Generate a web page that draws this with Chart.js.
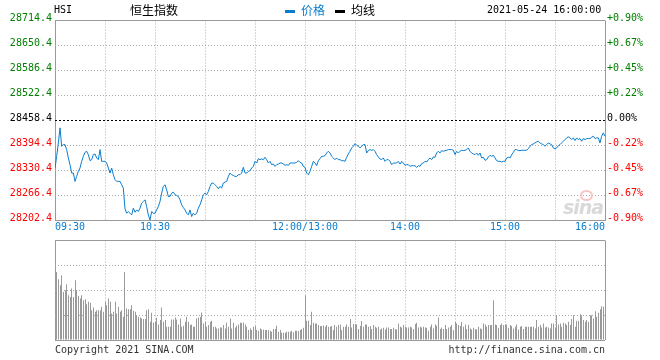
<!DOCTYPE html>
<html>
<head>
<meta charset="utf-8">
<script src="https://cdn.jsdelivr.net/npm/chart.js@4.4.0/dist/chart.umd.min.js"></script>
<style>
  body { margin: 0; background: #fff; }
  #wrap { position: relative; width: 660px; height: 360px; background: #fff; overflow: hidden;
          font-family: "DejaVu Sans Mono", monospace; font-size: 10px; color: #000; }
  #wrap canvas { position: absolute; left: 0; }
  .t { position: absolute; white-space: nowrap; line-height: 12px; }
  .cjk { font-family: "Noto Sans CJK SC", sans-serif; font-size: 12px; line-height: 14px; }
  .dash { position: absolute; width: 10px; height: 3px; }
  #sina { position: absolute; left: 563px; top: 196px; font: italic bold 19px "DejaVu Sans", sans-serif;
          color: #d9d9d9; letter-spacing: -1px; }
  #eye { position: absolute; left: 580px; top: 190px; width: 9px; height: 7px; border-radius: 50%;
         border: 2px solid #f6c4c4; }
</style>
</head>
<body>
<div id="wrap">
  <canvas id="priceChart" width="660" height="240" style="top:0"></canvas>
  <canvas id="volChart" width="660" height="106" style="top:236px"></canvas>

  <div class="t" style="left:54px; top:4px">HSI</div>
  <div class="t cjk" style="left:130px; top:3px">恒生指数</div>
  <div class="dash" style="left:285px; top:10px; background:#0a7cce"></div>
  <div class="t cjk" style="left:301px; top:3px; color:#0a7cce">价格</div>
  <div class="dash" style="left:335px; top:10px; background:#000"></div>
  <div class="t cjk" style="left:351px; top:3px">均线</div>
  <div class="t" style="left:487px; top:4px">2021-05-24 16:00:00</div>
  <div id="eye"></div>
  <div id="sina">sina</div>
  <div class="t" style="left:55px; top:344px; color:#333">Copyright 2021 SINA.COM</div>
  <div class="t" style="right:55px; top:344px; color:#333">http://finance.sina.com.cn</div>
</div>

<script>
// minutes since 09:30 (12:00 and 13:00 share minute 150)
const gridMinutes = [0, 30, 60, 90, 120, 150, 180, 210, 240, 270, 300, 330];
const timeTicks = [0, 60, 150, 210, 270, 330];
const timeLabels = ['09:30', '10:30', '12:00/13:00', '14:00', '15:00', '16:00'];

const priceTicks = [28202.4, 28266.4, 28330.4, 28394.4, 28458.4, 28522.4, 28586.4, 28650.4, 28714.4];
const pctLabels = ['-0.90%', '-0.67%', '-0.45%', '-0.22%', '0.00%', '+0.22%', '+0.45%', '+0.67%', '+0.90%'];

// one price per minute, 09:30 .. 16:00
const prices = [
  28336.7, 28366.7, 28401.0, 28439.6, 28392.5, 28396.7, 28396.7, 28383.9, 28362.5, 28345.3,
  28323.9, 28323.9, 28302.5, 28315.3, 28328.2, 28336.7, 28353.9, 28366.7, 28377.0, 28379.6,
  28371.0, 28355.6, 28358.2, 28371.0, 28372.7, 28362.5, 28358.2, 28383.9, 28353.9, 28353.9,
  28353.9, 28349.6, 28336.7, 28323.9, 28336.7, 28319.6, 28306.8, 28302.5, 28302.5, 28302.5,
  28293.9, 28285.3, 28232.2, 28221.1, 28225.3, 28221.1, 28216.8, 28233.9, 28223.6, 28229.6,
  28225.3, 28233.9, 28246.8, 28251.0, 28255.3, 28238.2, 28216.8, 28203.9, 28225.3, 28221.1,
  28221.1, 28229.6, 28238.2, 28251.0, 28272.5, 28289.6, 28293.9, 28281.0, 28263.9, 28263.9,
  28272.5, 28275.0, 28268.2, 28266.5, 28263.9, 28255.3, 28242.5, 28235.6, 28229.6, 28221.1,
  28216.8, 28229.6, 28212.5, 28221.1, 28216.8, 28221.1, 28233.9, 28242.5, 28255.3, 28268.2,
  28272.5, 28268.2, 28276.8, 28289.6, 28298.2, 28298.2, 28293.9, 28289.6, 28283.6, 28289.6,
  28285.3, 28298.2, 28300.8, 28302.5, 28315.3, 28323.9, 28319.6, 28317.9, 28315.3, 28315.3,
  28319.6,
  28319.6, 28323.9, 28338.5, 28323.9, 28323.9, 28328.2, 28329.9, 28336.7, 28341.0, 28353.9,
  28349.6, 28360.7, 28358.2, 28359.9, 28358.2, 28364.2, 28358.2, 28349.6, 28353.9, 28345.3,
  28347.0, 28341.0, 28345.3, 28347.0, 28349.6, 28349.6, 28347.0, 28343.6, 28345.3, 28343.6,
  28349.6, 28349.6, 28349.6, 28349.6, 28351.3, 28355.6, 28351.3, 28349.6, 28341.0, 28338.5,
  28323.9, 28319.6, 28328.2, 28341.0, 28353.9, 28349.6, 28342.7, 28355.6, 28360.7, 28366.7,
  28366.7, 28368.5, 28375.3, 28379.6, 28375.3, 28366.7, 28362.5, 28358.2, 28362.5, 28358.2,
  28358.2, 28355.6, 28355.6, 28353.9, 28364.2, 28372.7, 28379.6, 28388.2, 28392.5, 28399.3,
  28395.0, 28392.5, 28388.2, 28392.5, 28396.7, 28396.7, 28375.3, 28381.3, 28383.9, 28382.2,
  28383.9, 28379.6, 28371.0, 28365.0, 28359.9, 28358.2, 28362.5, 28353.9, 28358.2, 28358.2,
  28353.9, 28345.3, 28349.6, 28349.6, 28349.6, 28353.9, 28347.0, 28353.9, 28349.6, 28343.6,
  28345.3, 28345.3, 28341.0, 28342.7, 28342.7, 28342.7, 28338.5, 28342.7, 28341.0, 28347.9,
  28349.6, 28353.9, 28352.2, 28358.2, 28362.5, 28358.2, 28365.0, 28364.2, 28375.3, 28379.6,
  28375.3, 28381.3, 28379.6, 28381.3, 28382.2, 28383.9, 28383.9, 28383.9, 28382.2, 28371.0,
  28379.6, 28375.3, 28379.6, 28382.2, 28381.3, 28382.2, 28383.9, 28388.2, 28379.6, 28375.3,
  28372.7, 28371.0, 28375.3, 28369.3, 28375.3, 28362.5, 28364.2, 28356.5, 28358.2, 28365.0,
  28369.3, 28366.7, 28369.3, 28362.5, 28355.6, 28353.9, 28353.9, 28352.2, 28353.9, 28353.9,
  28362.5, 28364.2, 28362.5, 28371.0, 28377.0, 28383.9, 28383.9, 28381.3, 28381.3, 28382.2,
  28382.2, 28382.2, 28382.2, 28386.5, 28392.5, 28396.7, 28398.5, 28401.0, 28403.6, 28405.3,
  28401.0, 28398.5, 28396.7, 28392.5, 28396.7, 28401.0, 28398.5, 28396.7, 28388.2, 28385.6,
  28388.2, 28394.2, 28396.7, 28401.0, 28405.3, 28409.6, 28413.9, 28416.5, 28413.9, 28409.6,
  28413.9, 28407.0, 28413.9, 28409.6, 28412.2, 28405.3, 28412.2, 28409.6, 28412.2, 28412.2,
  28412.2, 28415.6, 28418.2, 28412.2, 28413.9, 28413.9, 28401.0, 28418.2, 28426.7, 28418.2
];

// volume per minute (09:31 .. 16:00), relative units
const volTicks = [0, 75, 150, 225, 300];
const volumes = [
  205, 183, 165, 195, 145, 150, 168, 135, 130, 155,
  130, 180, 150, 133, 125, 135, 120, 123, 108, 115,
  112, 90, 98, 85, 90, 90, 90, 100, 85, 115,
  105, 125, 115, 80, 85, 115, 80, 100, 85, 90,
  70, 205, 95, 93, 93, 105, 88, 85, 75, 70,
  68, 65, 63, 63, 90, 93, 55, 82, 52, 55,
  67, 47, 60, 98, 55, 60, 40, 40, 40, 62,
  62, 68, 62, 47, 65, 40, 43, 55, 70, 55,
  45, 47, 40, 40, 65, 68, 70, 83, 50, 55,
  40, 45, 55, 58, 40, 40, 35, 35, 38, 38,
  45, 35, 52, 40, 65, 35, 52, 38, 43, 47,
  52, 52, 52, 47, 40, 30, 35, 30, 40, 42,
  30, 28, 35, 32, 32, 30, 30, 30, 28, 25,
  33, 33, 43, 25, 30, 22, 22, 22, 25, 25,
  25, 28, 23, 28, 28, 27, 30, 33, 37, 135,
  58, 58, 45, 85, 52, 50, 50, 45, 42, 42,
  44, 40, 45, 40,
  40, 42, 30, 45, 40, 45, 47, 30, 40, 40,
  47, 40, 63, 38, 48, 48, 47, 33, 42, 57,
  40, 47, 47, 40, 42, 33, 45, 40, 37, 40,
  32, 35, 37, 32, 38, 38, 33, 33, 37, 33,
  32, 50, 40, 38, 45, 40, 38, 38, 40, 38,
  33, 48, 52, 38, 40, 38, 40, 38, 37, 28,
  40, 47, 35, 47, 43, 68, 33, 38, 33, 45,
  33, 38, 40, 45, 30, 55, 50, 45, 42, 54,
  40, 47, 33, 45, 35, 32, 37, 33, 32, 40,
  35, 33, 50, 47, 40, 45, 45, 45, 120, 47,
  45, 37, 45, 50, 45, 47, 47, 37, 45, 42,
  35, 40, 47, 32, 40, 42, 33, 40, 40, 40,
  40, 40, 40, 35, 60, 40, 45, 38, 50, 38,
  40, 38, 35, 50, 50, 38, 75, 47, 50, 40,
  52, 50, 45, 55, 45, 63, 75, 40, 58, 58,
  78, 75, 60, 55, 60, 55, 75, 75, 65, 87,
  70, 82, 93, 102, 100, 98
];

const MONO = '"DejaVu Sans Mono", monospace';
const BLUE = '#0a7cce';
const FRAME = '#999';
const DOT = '#aaa';

function labelColor(i) {
  if (i > 4) return '#008000';
  if (i === 4) return '#000';
  return '#f00';
}

function xGrid(last) {
  return {
    drawTicks: false,
    offset: false,
    color: c => (c.index === 0 || c.index === last) ? FRAME : DOT
  };
}
function xBorder(last) {
  return { display: false, dash: c => (c.index === 0 || c.index === last) ? [] : [1, 2] };
}

// keep 1px volume bars on whole pixels so they stay crisp
const snapBars = {
  id: 'snapBars',
  afterDatasetsUpdate(chart) {
    chart.getDatasetMeta(0).data.forEach(b => { b.x = Math.floor(b.x) + 0.5; });
  }
};

// ---- price chart ----
new Chart(document.getElementById('priceChart'), {
  type: 'line',
  data: {
    datasets: [{
      data: prices.map((p, i) => ({ x: i, y: p })),
      borderColor: BLUE,
      borderWidth: 1,
      pointRadius: 0,
      tension: 0
    }]
  },
  options: {
    responsive: false,
    animation: false,
    layout: { padding: { top: 20.5, bottom: 0, left: 0, right: 0 } },
    plugins: { legend: { display: false }, tooltip: { enabled: false } },
    scales: {
      x: {
        type: 'linear', min: 0, max: 330, offset: false,
        afterBuildTicks: s => { s.ticks = gridMinutes.map(v => ({ value: v })); },
        afterFit: s => { s.height = 19.5; },
        grid: xGrid(gridMinutes.length - 1),
        border: xBorder(gridMinutes.length - 1),
        ticks: {
          autoSkip: false, maxRotation: 0, align: 'inner', padding: 1,
          color: BLUE, font: { family: MONO, size: 10 },
          callback: v => {
            const k = timeTicks.indexOf(v);
            return k < 0 ? '' : timeLabels[k];
          }
        }
      },
      y: {
        position: 'left', min: priceTicks[0], max: priceTicks[priceTicks.length - 1],
        afterBuildTicks: s => { s.ticks = priceTicks.map(v => ({ value: v })); },
        afterFit: s => { s.width = 55; },
        grid: {
          drawTicks: false,
          color: c => (c.index === 0 || c.index === 8) ? FRAME : (c.index === 4 ? '#000' : DOT)
        },
        border: {
          display: false,
          dash: c => (c.index === 0 || c.index === 8) ? [] : (c.index === 4 ? [2, 2] : [1, 2])
        },
        ticks: {
          padding: 3, labelOffset: -2,
          font: { family: MONO, size: 10 },
          color: c => labelColor(c.index),
          callback: v => v.toFixed(1)
        }
      },
      y2: {
        position: 'right', min: priceTicks[0], max: priceTicks[priceTicks.length - 1],
        afterBuildTicks: s => { s.ticks = priceTicks.map(v => ({ value: v })); },
        afterFit: s => { s.width = 55; },
        grid: { drawOnChartArea: false, drawTicks: false },
        border: { display: false },
        ticks: {
          padding: 2, labelOffset: -2,
          font: { family: MONO, size: 10 },
          color: c => labelColor(c.index),
          callback: (v, i) => pctLabels[i]
        }
      }
    }
  }
});

// ---- volume chart ----
new Chart(document.getElementById('volChart'), {
  type: 'bar',
  data: {
    datasets: [{
      data: volumes.map((v, i) => ({ x: i + 1, y: v })),
      backgroundColor: '#9a9a9a',
      barThickness: 1,
      inflateAmount: 0
    }]
  },
  options: {
    responsive: false,
    animation: false,
    layout: { padding: { top: 4.5, bottom: 2, left: 0, right: 55 } },
    plugins: { legend: { display: false }, tooltip: { enabled: false } },
    scales: {
      x: {
        type: 'linear', min: 0, max: 330, offset: false,
        afterBuildTicks: s => { s.ticks = gridMinutes.map(v => ({ value: v })); },
        afterFit: s => { s.height = 0; },
        grid: xGrid(gridMinutes.length - 1),
        border: xBorder(gridMinutes.length - 1),
        ticks: { display: false }
      },
      y: {
        position: 'left', min: 0, max: 300,
        afterBuildTicks: s => { s.ticks = volTicks.map(v => ({ value: v })); },
        afterFit: s => { s.width = 55; },
        grid: {
          drawTicks: false,
          color: c => (c.index === 0 || c.index === 4) ? FRAME : DOT
        },
        border: { display: false, dash: c => (c.index === 0 || c.index === 4) ? [] : [1, 2] },
        ticks: { display: false }
      }
    }
  },
  plugins: [snapBars]
});
</script>
</body>
</html>
